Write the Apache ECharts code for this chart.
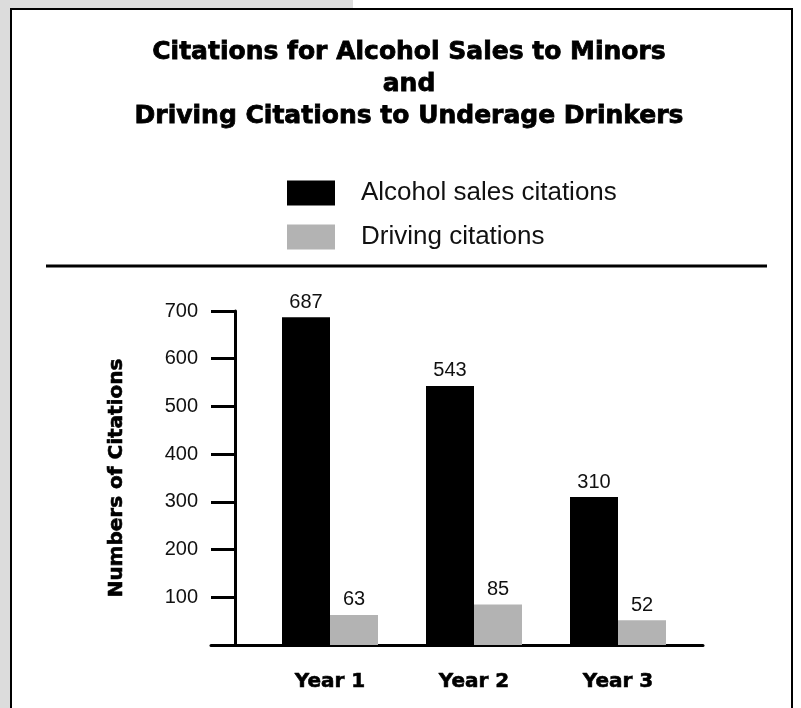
<!DOCTYPE html>
<html>
<head>
<meta charset="utf-8">
<script src="https://cdn.jsdelivr.net/npm/echarts@6/dist/echarts.min.js"></script>
<style>
html,body{margin:0;padding:0;background:#fff;}
#chart{width:801px;height:708px;}
</style>
</head>
<body>
<div id="chart"></div>
<script>
const categories = ['Year 1', 'Year 2', 'Year 3'];
const alcoholSales = [687, 543, 310];
const drivingCitations = [63, 85, 52];
const seriesNames = ['Alcohol sales citations', 'Driving citations'];
const yTicks = { min: 0, max: 700, interval: 100 };
const titleLines = ['Citations for Alcohol Sales to Minors', 'and', 'Driving Citations to Underage Drinkers'];
const yAxisName = 'Numbers of Citations';

const chart = echarts.init(document.getElementById('chart'), null, { renderer: 'canvas' });
const FONT = '"Liberation Sans", Arial, sans-serif';
const HEAVY = '"DejaVu Sans", "Liberation Sans", sans-serif';

chart.setOption({
  backgroundColor: '#fff',
  animation: false,
  textStyle: { fontFamily: FONT },
  graphic: [
    { type: 'rect', shape: { x: 0, y: 0, width: 353, height: 9 }, style: { fill: '#dcdcdc' }, z: 0 },
    { type: 'rect', shape: { x: 0, y: 0, width: 10, height: 708 }, style: { fill: '#dcdcdc' }, z: 0 },
    { type: 'rect', shape: { x: 11, y: 9, width: 781, height: 720 }, style: { fill: 'none', stroke: '#000', lineWidth: 2 }, z: 1 },
    { type: 'line', shape: { x1: 46, y1: 266, x2: 767, y2: 266 }, style: { stroke: '#000', lineWidth: 3 }, z: 1 }
  ],
  title: {
    text: titleLines.join('\n'),
    left: 404,
    top: 31,
    textAlign: 'center',
    textStyle: {
      fontFamily: HEAVY, fontSize: 25, fontWeight: 'bold', color: '#000',
      lineHeight: 32, textBorderColor: '#000', textBorderWidth: 0.8
    }
  },
  legend: {
    orient: 'vertical',
    left: 282,
    top: 175,
    itemWidth: 48,
    itemHeight: 25,
    itemGap: 18,
    icon: 'rect',
    selectedMode: false,
    textStyle: { fontFamily: FONT, fontSize: 26, color: '#111', padding: [0, 0, 0, 21] },
    data: seriesNames
  },
  grid: [
    { left: 258, right: 111, top: 311, bottom: 63, containLabel: false },
    { left: 211, right: 98, top: 311, bottom: 63, containLabel: false }
  ],
  xAxis: [
    {
      type: 'category', gridIndex: 0, data: categories,
      axisLine: { show: false }, axisTick: { show: false },
      axisLabel: {
        margin: 27, fontFamily: HEAVY, fontSize: 20, fontWeight: 'bold', color: '#000',
        textBorderColor: '#000', textBorderWidth: 0.6
      }
    },
    {
      type: 'value', gridIndex: 1, min: 0, max: 1,
      axisLine: { show: true, lineStyle: { color: '#000', width: 3 } },
      axisTick: { show: false }, axisLabel: { show: false }, splitLine: { show: false }
    }
  ],
  yAxis: [
    {
      type: 'value', gridIndex: 0, min: yTicks.min, max: yTicks.max, interval: yTicks.interval,
      offset: 23,
      axisLine: { show: true, lineStyle: { color: '#000', width: 3 } },
      axisTick: { show: true, inside: false, length: 24, lineStyle: { color: '#000', width: 3 } },
      splitLine: { show: false },
      axisLabel: {
        margin: 37, fontFamily: FONT, fontSize: 20, color: '#111',
        formatter: v => (v === 0 ? '' : String(v))
      },
      name: yAxisName,
      nameLocation: 'middle',
      nameGap: 108,
      nameTextStyle: {
        fontFamily: HEAVY, fontSize: 20, fontWeight: 'bold', color: '#000',
        textBorderColor: '#000', textBorderWidth: 0.6
      }
    },
    { type: 'value', gridIndex: 1, min: 0, max: 1, show: false }
  ],
  series: [
    {
      name: seriesNames[0], type: 'bar', xAxisIndex: 0, yAxisIndex: 0,
      data: alcoholSales, barWidth: 48, barGap: '0%',
      itemStyle: { color: '#000' },
      label: { show: true, position: 'top', distance: 5, fontFamily: FONT, fontSize: 20, color: '#111' }
    },
    {
      name: seriesNames[1], type: 'bar', xAxisIndex: 0, yAxisIndex: 0,
      data: drivingCitations, barWidth: 48, barGap: '0%',
      itemStyle: { color: '#b3b3b3' },
      label: { show: true, position: 'top', distance: 5, fontFamily: FONT, fontSize: 20, color: '#111' }
    }
  ]
});
</script>
</body>
</html>
